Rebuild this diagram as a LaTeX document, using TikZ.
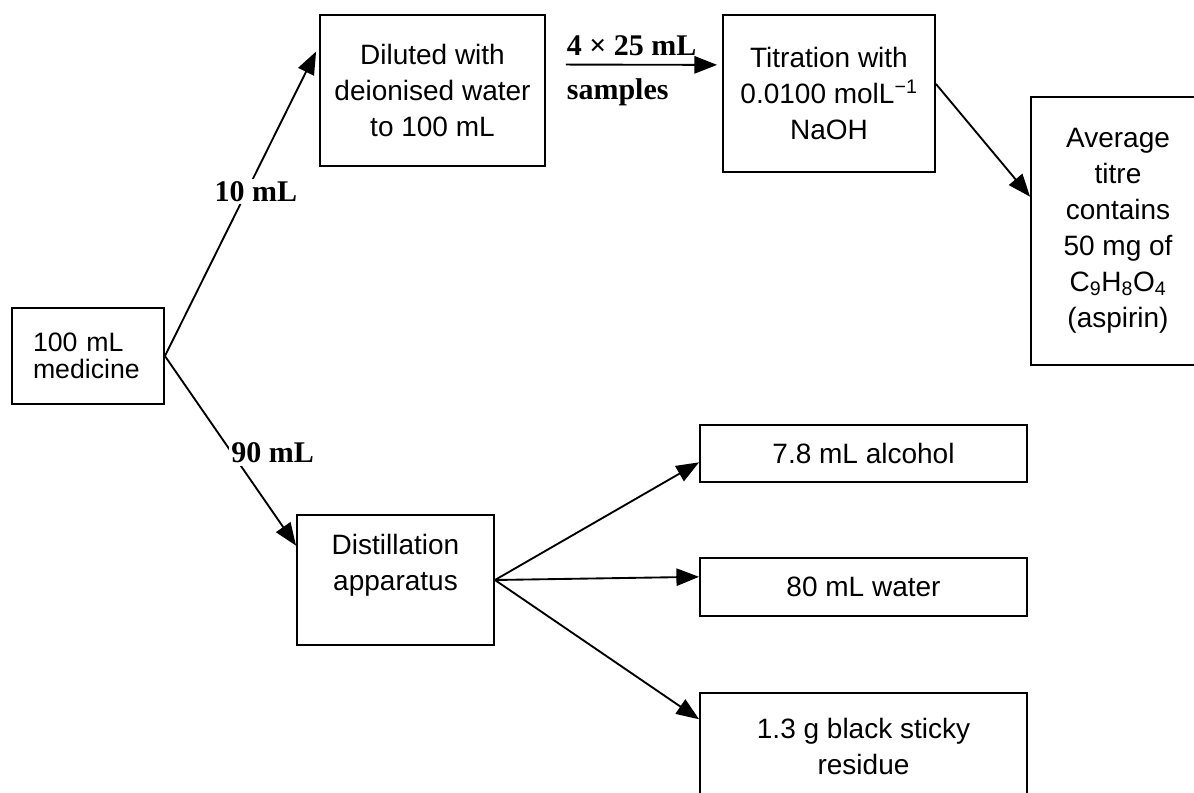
\documentclass[tikz,border=0pt]{standalone}
\usepackage{fontspec}
\setmainfont{Liberation Sans}
\newfontfamily\lblserif{Liberation Serif}
\usetikzlibrary{arrows.meta,calc}

\begin{document}
\begin{tikzpicture}[x=0.75pt, y=-0.75pt,
        box/.style={draw, line width=1.4pt, align=center, inner sep=2pt, font=\fontsize{21}{27}\selectfont},
        flow/.style={line width=1.4pt, -{Triangle[length=17pt, width=13pt]}},
        qty/.style={font=\lblserif\bfseries\fontsize{22.5}{27}\selectfont, inner sep=2pt}]
        \useasboundingbox (0, 0) rectangle (1194, 792);
        \clip (0, 0) rectangle (1194, 792);
        \node [box, text width=82.5pt, align=left, inner xsep=15.75pt, minimum height=72pt, font=\fontsize{20}{20}\selectfont] (0) at (88, 356) {100 mL\\medicine};
        \node [box, minimum width=168.75pt, minimum height=113.25pt] (1) at (432.5, 90.5) {Diluted with\\deionised water\\to 100 mL};
        \node [box, minimum width=159pt, minimum height=117.75pt] (2) at (829, 93.5) {Titration with\\0.0100 molL\textsuperscript{−1}\\NaOH};
        \node [box, minimum width=130.5pt, minimum height=201pt] (3) at (1118, 231) {Average\\titre\\contains\\50 mg of\\C\textsubscript{9}H\textsubscript{8}O\textsubscript{4}\\(aspirin)};
        \node [box, minimum width=147.75pt, minimum height=97.5pt] (4) at (395.5, 580) {Distillation\\apparatus\\\mbox{}};
        \node [box, minimum width=245.25pt, minimum height=42.75pt] (5) at (863.5, 453.5) {7.8 mL alcohol};
        \node [box, minimum width=245.25pt, minimum height=43.5pt] (6) at (863.5, 587) {80 mL water};
        \node [box, minimum width=245.25pt, minimum height=80.25pt] (7) at (863.5, 746.5) {1.3 g black sticky\\residue};
        \draw [flow, shorten >=5pt] (0.east) to node [qty, fill=white, pos=0.53, xshift=7pt] {10 mL} ($(1.north west)!0.206!(1.south west)$);
        \draw [flow] (0.east) to node [qty, fill=white, pos=0.51, anchor=west, xshift=-3pt] {90 mL} ($(4.north west)!0.24!(4.south west)$);
        \draw [flow, shorten <=15pt, shorten >=3.75pt] ($(1.north east)!0.33!(1.south east)$) to node [qty, at start, anchor=south west, xshift=13pt, yshift=4pt] {4 × 25 mL} node [qty, at start, anchor=north west, xshift=13pt, yshift=-7.75pt] {samples} ($(2.north west)!0.32!(2.south west)$);
        \draw [flow] ($(2.north east)!0.44!(2.south east)$) to ($(3.north west)!0.373!(3.south west)$);
        \draw [flow] (4.east) to ($(5.north west)!0.65!(5.south west)$);
        \draw [flow] (4.east) to ($(6.north west)!0.33!(6.south west)$);
        \draw [flow] (4.east) to ($(7.north west)!0.25!(7.south west)$);
    \end{tikzpicture}
\end{document}
